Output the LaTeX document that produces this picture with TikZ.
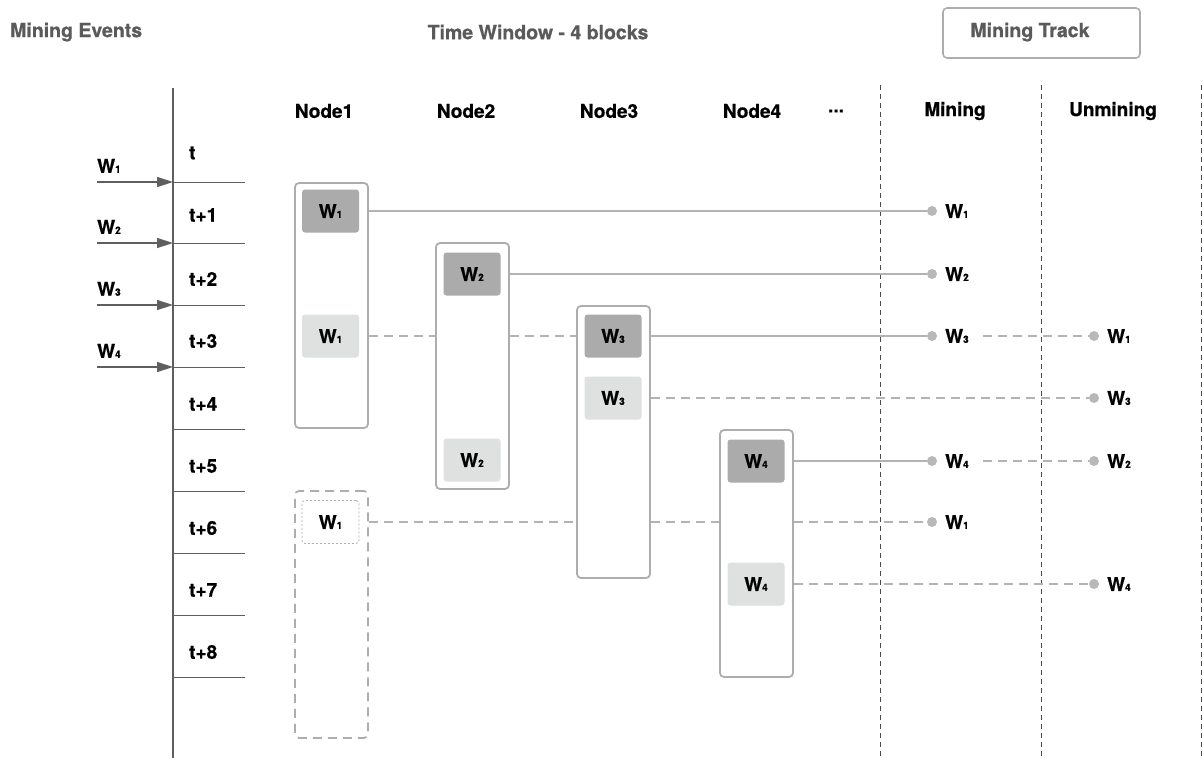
\documentclass[tikz,border=0pt]{standalone}
\usepackage{fontspec}
\setmainfont[BoldFeatures={FakeBold=0.8}]{TeX Gyre Heros}
\usetikzlibrary{arrows.meta}
\definecolor{ttlgray}{HTML}{5A5A5A}
\definecolor{axisgray}{HTML}{5F5F5F}
\definecolor{lanegray}{HTML}{ADADAD}
\definecolor{darkfill}{HTML}{ABABAB}
\definecolor{lightfill}{HTML}{DFE0E0}
\definecolor{linegray}{HTML}{B3B3B3}
\definecolor{dotgray}{HTML}{B8B8B8}
\definecolor{sepgray}{HTML}{4A4A4A}
\newcommand\Wsub[1]{W{\fontsize{10}{10}\selectfont #1}}
\tikzset{
  txt/.style={font=\fontsize{19}{19}\selectfont\bfseries, inner sep=0pt},
  ttl/.style={txt, font=\fontsize{19.5}{19.5}\selectfont\bfseries, text=ttlgray},
  lanebox/.style={draw=lanegray, line width=1.8pt, rounded corners=4pt, minimum width=73pt, inner sep=0pt},
  ghostbox/.style={lanebox, dash pattern=on 9pt off 6pt},
  wbox/.style={txt, rounded corners=3pt, minimum width=57pt, minimum height=43pt},
  darkw/.style={wbox, fill=darkfill},
  lightw/.style={wbox, fill=lightfill},
  dottedw/.style={wbox, draw=lanegray, line width=0.8pt, dash pattern=on 2pt off 2pt},
  conn/.style={draw=linegray, line width=1.6pt},
  dconn/.style={conn, dash pattern=on 9pt off 6pt},
  dotnode/.style={circle, fill=dotgray, minimum size=10pt, inner sep=0pt},
  sep/.style={draw=sepgray, line width=0.8pt, dash pattern=on 5pt off 4pt},
  tick/.style={draw=axisgray, line width=1pt},
  evarrow/.style={draw=axisgray, line width=1.4pt, -{Triangle[length=16pt,width=10pt]}},
}
\begin{document}
\begin{tikzpicture}[x=1pt,y=-1pt]
\useasboundingbox (0,0) rectangle (1203,758);
% titles
\node[ttl, anchor=west] (tme) at (10,32) {Mining Events};
\node[ttl] (ttw) at (538,32) {Time Window - 4 blocks};
\node[ttl, draw=lanegray, line width=1.6pt, rounded corners=4pt, minimum width=197pt, minimum height=50pt] (ttk) at (1041.5,33) {};
\node[ttl] (ttkl) at (1030,32) {Mining Track};
% headers
\node[txt] (h1) at (324,111) {Node1};
\node[txt] (h2) at (466,111) {Node2};
\node[txt] (h3) at (609,111) {Node3};
\node[txt] (h4) at (752,111) {Node4};
\node[txt] (hd) at (836,111) {...};
\node[txt] (hm) at (955,111) {Mining};
\node[txt] (hu) at (1113,111) {Unmining};
% separators
\coordinate (s1t) at (880,85); \coordinate (s1b) at (880,758);
\coordinate (s2t) at (1041,85); \coordinate (s2b) at (1041,758);
\coordinate (s3t) at (1201.5,85); \coordinate (s3b) at (1201.5,758);
\draw[sep] (s1t) -- (s1b);
\draw[sep] (s2t) -- (s2b);
\draw[sep] (s3t) -- (s3b);
% time axis
\coordinate (axt) at (173,88); \coordinate (axb) at (173,758);
\draw[draw=axisgray, line width=1.2pt] (axt) -- (axb);
\foreach \y [count=\i] in {182,243,305,367,429,491,553,615,677} {
  \coordinate (tk\i) at (173,\y);
  \coordinate (te\i) at (245,\y);
  \draw[tick] (tk\i) -- (te\i);
}
\node[txt, anchor=west] (l0) at (189,153) {t};
\node[txt, anchor=west] (l1) at (189,215) {t+1};
\node[txt, anchor=west] (l2) at (189,279) {t+2};
\node[txt, anchor=west] (l3) at (189,341) {t+3};
\node[txt, anchor=west] (l4) at (189,404) {t+4};
\node[txt, anchor=west] (l5) at (189,466) {t+5};
\node[txt, anchor=west] (l6) at (189,528) {t+6};
\node[txt, anchor=west] (l7) at (189,590) {t+7};
\node[txt, anchor=west] (l8) at (189,652) {t+8};
% mining events arrows
\foreach \y/\w [count=\i] in {182/1,243/2,305/3,367/4} {
  \coordinate (as\i) at (97,\y);
  \draw[evarrow] (as\i) -- (tk\i);
  \node[txt, anchor=south west] (ew\i) at (97,\y-9) {\Wsub{\w}};
}
% lanes
\node[lanebox, minimum height=245pt] (n1) at (331.5,305.5) {};
\node[ghostbox, minimum height=247pt] (n1g) at (331.5,614.5) {};
\node[lanebox, minimum height=246pt] (n2) at (472.5,366) {};
\node[lanebox, minimum height=272pt] (n3) at (613.5,442) {};
\node[lanebox, minimum height=247pt] (n4) at (756.5,553.5) {};
% blocks
\node[darkw] (b11) at (330.5,211) {\Wsub{1}};
\node[lightw] (b12) at (330.5,336) {\Wsub{1}};
\node[dottedw] (b13) at (330.5,522) {\Wsub{1}};
\node[darkw] (b21) at (472,274) {\Wsub{2}};
\node[lightw] (b22) at (472,460) {\Wsub{2}};
\node[darkw] (b31) at (613,336) {\Wsub{3}};
\node[lightw] (b32) at (613,398) {\Wsub{3}};
\node[darkw] (b41) at (756,461) {\Wsub{4}};
\node[lightw] (b42) at (756,584) {\Wsub{4}};
% mining dots and labels
\foreach \n/\y/\w in {m1/211/1,m2/274/2,m3/336/3,m4/461/4,m5/522/1} {
  \node[dotnode] (\n) at (932,\y) {};
  \node[txt, anchor=west] (\n l) at (945,\y) {\Wsub{\w}};
}
\foreach \n/\y/\w in {u1/336/1,u2/398/3,u3/461/2,u4/584/4} {
  \node[dotnode] (\n) at (1094,\y) {};
  \node[txt, anchor=west] (\n l) at (1107,\y) {\Wsub{\w}};
}
% connectors
\draw[conn] (n1.east |- b11) -- (m1);
\draw[conn] (n2.east |- b21) -- (m2);
\draw[dconn] (n1.east |- b12) -- (n2.west |- b12);
\draw[dconn] (n2.east |- b12) -- (n3.west |- b12);
\draw[conn] (n3.east |- b31) -- (m3);
\draw[dconn] ([xshift=14pt]m3l.east) -- (u1);
\draw[dconn] (n3.east |- b32) -- (u2);
\draw[conn] (n4.east |- b41) -- (m4);
\draw[dconn] ([xshift=14pt]m4l.east) -- (u3);
\draw[dconn] (n1g.east |- b13) -- (n3.west |- b13);
\draw[dconn] (n3.east |- b13) -- (n4.west |- b13);
\draw[dconn] (n4.east |- b13) -- (m5);
\draw[dconn] (n4.east |- b42) -- (u4);
\end{tikzpicture}
\end{document}
